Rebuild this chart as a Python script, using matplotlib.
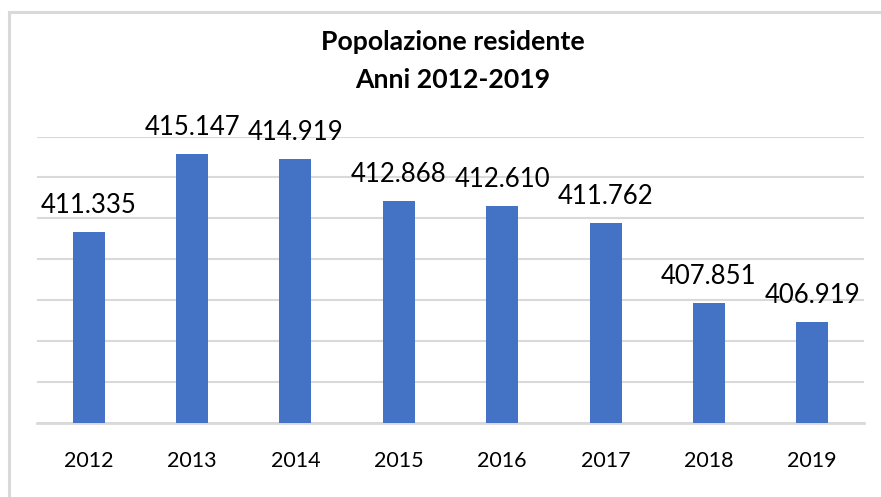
import matplotlib
matplotlib.use("Agg")
import matplotlib.pyplot as plt
from matplotlib.patches import Rectangle

plt.rcParams['font.family'] = ['Lato', 'DejaVu Sans']

years = ["2012", "2013", "2014", "2015", "2016", "2017", "2018", "2019"]
values = [411.335, 415.147, 414.919, 412.868, 412.610, 411.762, 407.851, 406.919]
labels = ["411.335", "415.147", "414.919", "412.868", "412.610", "411.762", "407.851", "406.919"]
title_lines = ["Popolazione residente", "Anni 2012-2019"]

W, H = 881, 497
fig = plt.figure(figsize=(W / 100, H / 100), dpi=100)
fig.patch.set_facecolor("white")

# outer chart border (only top and left visible)
fig.add_artist(Rectangle((8.5 / W, -0.1), 1.2, 1 - 11.5 / H + 0.1,
                         transform=fig.transFigure, fill=False,
                         edgecolor="#d9d9d9", linewidth=2.2))

ax = fig.add_axes([37 / W, 1 - 423 / H, (864 - 37) / W, (423 - 136.5) / H])
x = list(range(len(years)))
ax.bar(x, [v - 402 for v in values], bottom=402, width=0.31, color="#4472C4", zorder=3)
ax.set_xlim(-0.5, len(years) - 0.5)
ax.set_ylim(402, 416)
ax.set_yticks(range(402, 417, 2))
ax.yaxis.grid(True, color="#d9d9d9", linewidth=1.5, zorder=0)
ax.set_yticklabels([])
ax.tick_params(axis="y", length=0)
ax.set_xticks(x)
ax.set_xticklabels(years, fontsize=15.5, color="#000000")
ax.tick_params(axis="x", length=0, pad=20)
for s in ["top", "right", "left"]:
    ax.spines[s].set_visible(False)
ax.spines["bottom"].set_color("#d9d9d9")
ax.spines["bottom"].set_linewidth(2)
ax.set_facecolor("none")

for xi, v, lab in zip(x, values, labels):
    ax.annotate(lab, (xi, v), xytext=(0, 13.7), textcoords="offset points",
                ha="center", va="baseline", fontsize=18.5, color="#000000",
                annotation_clip=False)

fig.text(453 / W, 1 - 50 / H, title_lines[0], ha="center", va="baseline",
         fontsize=19.2, fontweight="bold", color="#000000")
fig.text(453 / W, 1 - 88.3 / H, title_lines[1], ha="center", va="baseline",
         fontsize=19.2, fontweight="bold", color="#000000")

fig.savefig("out.png", dpi=100, facecolor="white")
